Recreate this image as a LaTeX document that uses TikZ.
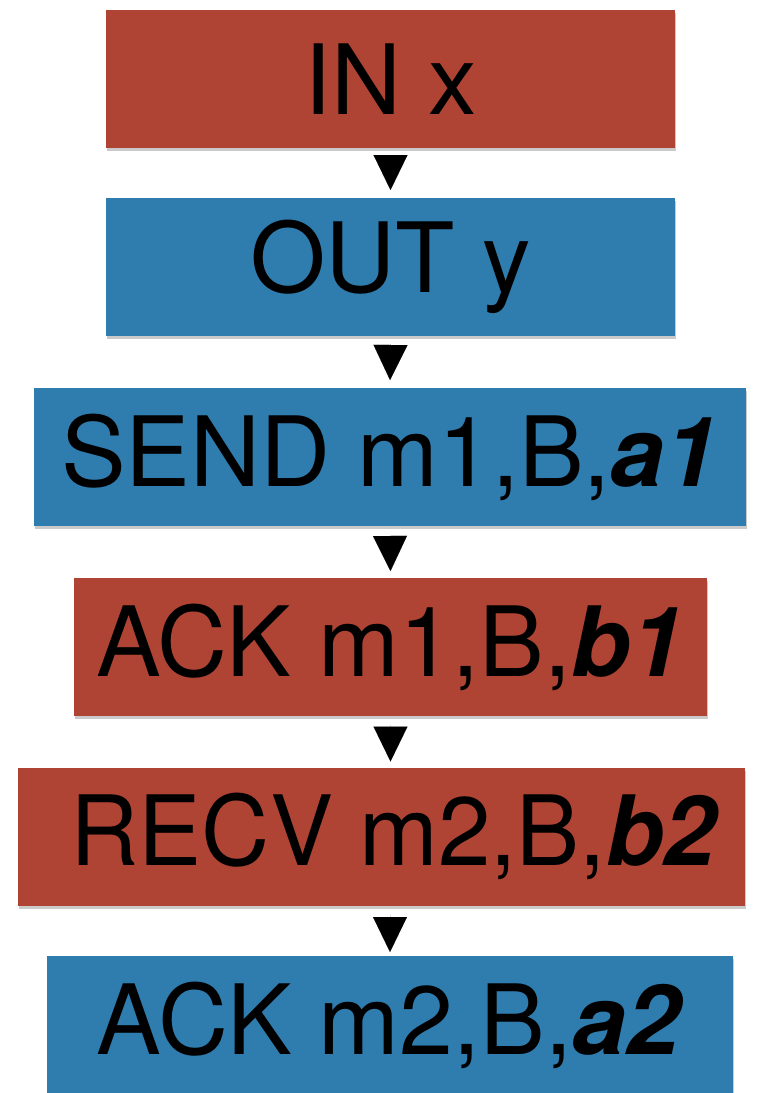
\documentclass[tikz,border=0pt]{standalone}
\usepackage{fontspec}
\usepackage{graphicx}
\setmainfont{TeX Gyre Heros}
\usetikzlibrary{arrows.meta,calc,shadows}
\definecolor{boxred}{RGB}{176,68,52}
\definecolor{boxblue}{RGB}{47,124,175}
\begin{document}
\begin{tikzpicture}[x=1pt,y=-1pt,
  box/.style={draw=none, inner sep=0pt, outer sep=0pt, minimum height=138pt,
    font=\fontsize{97}{100}\selectfont, text=black,
    drop shadow={shadow xshift=1pt, shadow yshift=-3pt, opacity=0.35, fill=black!60}},
  redbox/.style={box, fill=boxred},
  bluebox/.style={box, fill=boxblue},
  tri/.style={draw=black, line width=0.01pt, -{Triangle[width=34pt,length=35pt]}}
]
\useasboundingbox (0,0) rectangle (765,1093);
\begin{scope}
\clip (0,0) rectangle (765,1093);
\node[redbox, minimum width=569pt] (inx) at (390.5,79) {IN x};
\node[bluebox, minimum width=569pt] (outy) at (390.5,267) {OUT y};
\node[bluebox, minimum width=712pt] (send) at (390,457) {SEND m1,B,\textbf{\textit{a1}}};
\node[redbox, minimum width=633pt] (ack1) at (390.5,647) {ACK m1,B,\textbf{\textit{b1}}};
\node[redbox, minimum width=727pt] (recv) at (381.5,836.5) {\hspace*{27pt}\scalebox{0.974}[1]{RECV m2,B,\textbf{\textit{b2}}}};
\node[bluebox, minimum width=686pt] (ack2) at (390,1025) {ACK m2,B,\textbf{\textit{a2}}};
\end{scope}
\draw[tri] ($(inx.south)+(0,7)$) -- ($(outy.north)+(0,-8)$);
\draw[tri] ($(outy.south)+(0,8)$) -- ($(send.north)+(0,-8)$);
\draw[tri] ($(send.south)+(0,9)$) -- ($(ack1.north)+(0,-7)$);
\draw[tri] ($(ack1.south)+(0,9)$) -- ($(ack1.south |- recv.north)+(0,-6)$);
\draw[tri] ($(ack2.north |- recv.south)+(0,9)$) -- ($(ack2.north)+(0,-4)$);
\end{tikzpicture}
\end{document}
